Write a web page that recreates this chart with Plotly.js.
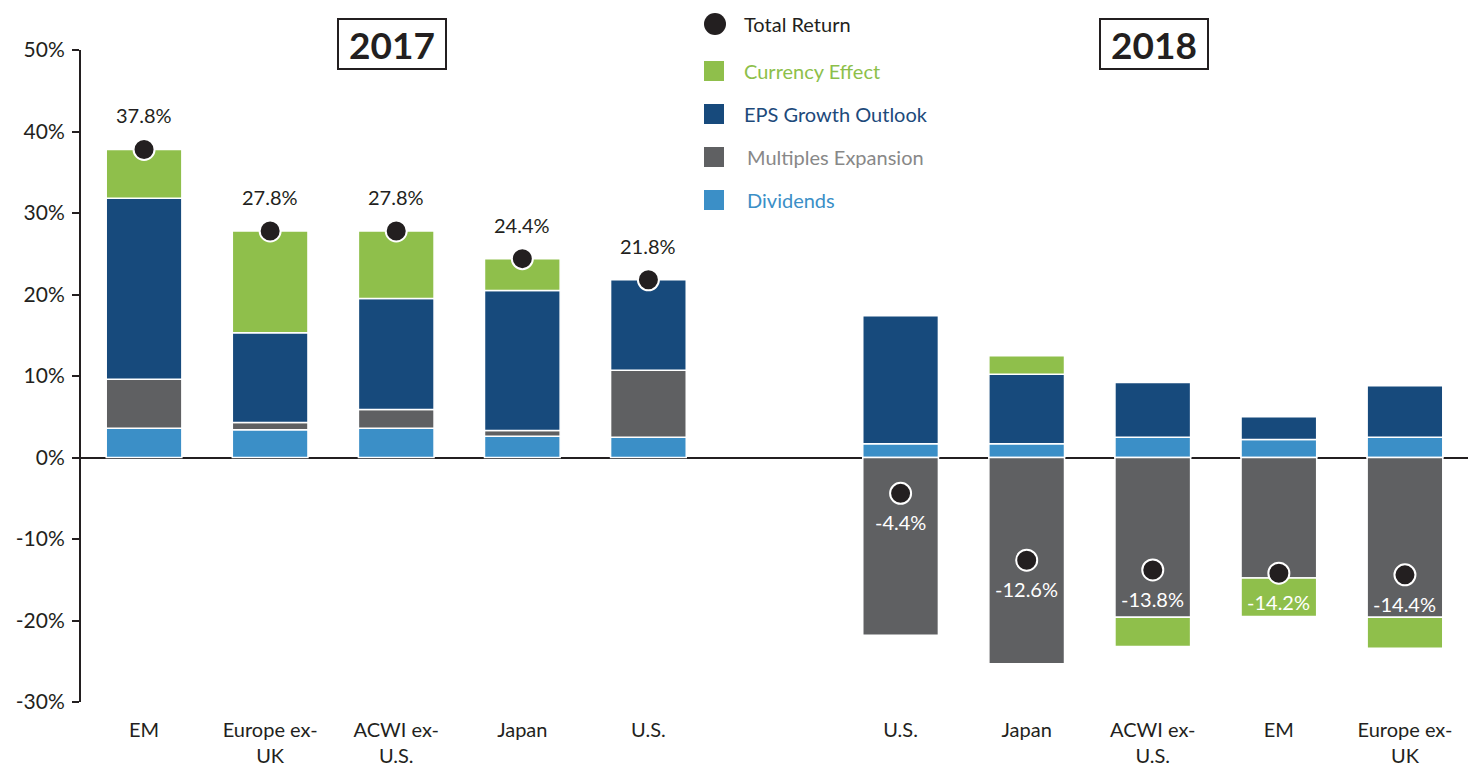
<!DOCTYPE html>
<html>
<head>
<meta charset="utf-8">
<script src="https://cdn.plot.ly/plotly-3.0.1.min.js"></script>
<style>html,body{margin:0;padding:0;background:#fff;}#chart{width:1473px;height:766px;}</style>
</head>
<body>
<div id="chart"></div>
<script>
// ---- data ----
const categories = ['EM', 'Europe ex-<br>UK', 'ACWI ex-<br>U.S.', 'Japan', 'U.S.',
                    'U.S.', 'Japan', 'ACWI ex-<br>U.S.', 'EM', 'Europe ex-<br>UK'];
const years = ['2017', '2018'];
const dividends = [3.6, 3.4, 3.6, 2.6, 2.5, 1.7, 1.7, 2.5, 2.2, 2.5];
const multiples = [6.0, 0.9, 2.3, 0.7, 8.2, -21.8, -25.3, -19.6, -14.8, -19.6];
const eps       = [22.2, 11.0, 13.6, 17.2, 11.1, 15.7, 8.5, 6.7, 2.8, 6.3];
const currency  = [6.0, 12.5, 8.3, 3.9, null, null, 2.3, -3.6, -4.7, -3.8];
const totalReturn = [37.8, 27.8, 27.8, 24.4, 21.8, -4.4, -12.6, -13.8, -14.2, -14.4];
const yTickVals = [-30, -20, -10, 0, 10, 20, 30, 40, 50];

// ---- styling ----
const C = {
  green: '#8fbf4b', navy: '#174a7c', gray: '#5f6062', light: '#3b8fc7', black: '#231f20',
  greenTxt: '#8dbf4a', navyTxt: '#1d4a7b', grayTxt: '#888888', lightTxt: '#3b8fc7'
};
const FONT = 'Lato, "Open Sans", sans-serif';
const xpos = categories.map((_, i) => i < 5 ? i : i + 1);

const W = 1473, H = 766, L = 81, R = 5, T = 50, B = 64;
const pw = W - L - R, ph = H - T - B;
const px = x => (x - L) / pw;
const py = y => (H - B - y) / ph;

function barTrace(name, vals, color) {
  return {
    type: 'bar', name: name, x: xpos, y: vals,
    marker: {color: color, line: {color: '#ffffff', width: 1.5}},
    width: 0.6, showlegend: false, hoverinfo: 'y+name'
  };
}

const traces = [
  barTrace('Dividends', dividends, C.light),
  barTrace('Multiples Expansion', multiples, C.gray),
  barTrace('EPS Growth Outlook', eps, C.navy),
  barTrace('Currency Effect', currency, C.green),
  {
    type: 'scatter', mode: 'markers', name: 'Total Return', x: xpos, y: totalReturn,
    marker: {color: C.black, size: 21, line: {color: '#ffffff', width: 2}},
    showlegend: false, cliponaxis: false
  }
];

const annotations = totalReturn.map((v, i) => ({
  x: xpos[i], y: v, xref: 'x', yref: 'y',
  text: v.toFixed(1) + '%', showarrow: false,
  yshift: v >= 0 ? 34 : -29,
  font: {family: FONT, size: 20, color: v >= 0 ? C.black : '#ffffff'}
}));

// year boxes
[[392, years[0]], [1154, years[1]]].forEach(([x, t]) => {
  annotations.push({
    xref: 'paper', yref: 'paper', x: px(x), y: py(44), text: '<b>' + t + '</b>',
    showarrow: false, font: {family: FONT, size: 37, color: C.black},
    bordercolor: C.black, borderwidth: 2, borderpad: 0, width: 106, height: 48,
    xanchor: 'center', yanchor: 'middle'
  });
});

// legend (manual)
const legendItems = [
  ['Total Return', C.black, C.black, 'circle', 742, 24],
  ['Currency Effect', C.green, C.greenTxt, 'rect', 742, 71],
  ['EPS Growth Outlook', C.navy, C.navyTxt, 'rect', 742, 114],
  ['Multiples Expansion', C.gray, C.grayTxt, 'rect', 745, 157],
  ['Dividends', C.light, C.lightTxt, 'rect', 745, 200]
];
const shapes = [];
legendItems.forEach(([name, fill, tc, kind, tx, ty]) => {
  const cx = kind === 'circle' ? 715 : 714;
  const h = kind === 'circle' ? 11 : 10;
  shapes.push({
    type: kind, xref: 'paper', yref: 'paper',
    x0: px(cx - h), x1: px(cx + h), y0: py(ty + h), y1: py(ty - h),
    fillcolor: fill, line: {width: 0}
  });
  annotations.push({
    xref: 'paper', yref: 'paper', x: px(tx), y: py(ty), xanchor: 'left', yanchor: 'middle',
    text: name, showarrow: false, font: {family: FONT, size: 20, color: tc}
  });
});

const layout = {
  width: W, height: H,
  margin: {l: L, r: R, t: T, b: B},
  paper_bgcolor: '#ffffff', plot_bgcolor: '#ffffff',
  barmode: 'relative', bargap: 0.4,
  font: {family: FONT, color: C.black},
  showlegend: false,
  xaxis: {
    range: [-0.5, 10.5], tickvals: xpos, ticktext: categories,
    showgrid: false, zeroline: false, showline: false, ticks: '',
    tickfont: {family: FONT, size: 20, color: C.black}, ticklabelstandoff: 14,
    fixedrange: true
  },
  yaxis: {
    range: [-30, 50], tickvals: yTickVals, ticktext: yTickVals.map(v => v + '%'),
    showgrid: false, zeroline: true, zerolinecolor: C.black, zerolinewidth: 2,
    showline: true, linecolor: C.black, linewidth: 2,
    ticks: 'outside', ticklen: 7, tickwidth: 2, tickcolor: C.black,
    tickfont: {family: FONT, size: 21, color: C.black}, ticklabelstandoff: 3,
    fixedrange: true
  },
  shapes: shapes,
  annotations: annotations
};

Plotly.newPlot('chart', traces, layout, {displayModeBar: false, staticPlot: true});
</script>
</body>
</html>
